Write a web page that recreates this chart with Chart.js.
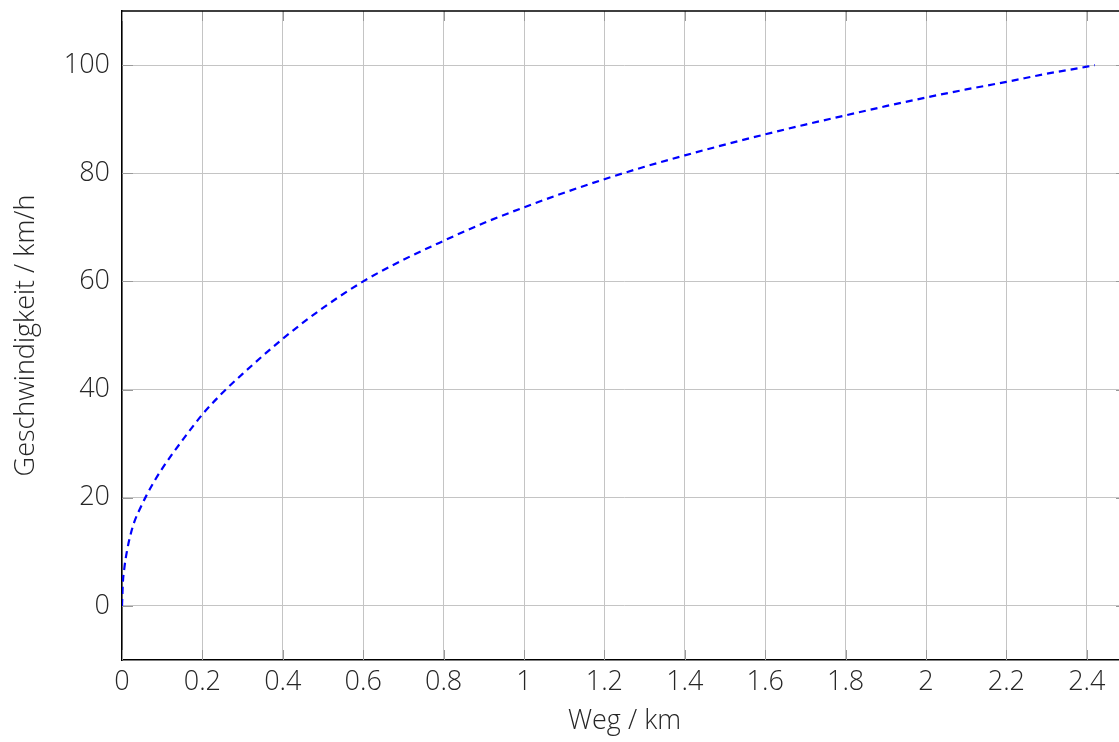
<!DOCTYPE html>
<html>
<head>
<meta charset="utf-8">
<script src="https://cdn.jsdelivr.net/npm/chart.js@4/dist/chart.umd.min.js"></script>
<style>
  html, body { margin: 0; padding: 0; background: #fff; overflow: hidden; }
  /* Zeichenfläche läuft rechts etwas über den Rand hinaus, wie im Original */
  #wrap { width: 1128px; height: 742px; }
</style>
</head>
<body>
<div id="wrap"><canvas id="speedChart"></canvas></div>
<script>
// Weg in km, Geschwindigkeit in km/h
const weg = [0, 0.002, 0.006, 0.012, 0.02, 0.03, 0.045, 0.06, 0.08, 0.1, 0.15, 0.2, 0.25, 0.3, 0.4, 0.5,
  0.6, 0.7, 0.8, 0.9, 1.0, 1.1, 1.2, 1.3, 1.4, 1.5, 1.6, 1.7, 1.8, 1.9, 2.0, 2.1, 2.2, 2.3, 2.4, 2.42];
const geschwindigkeit = [0, 4.1, 7.1, 10, 12.8, 15.4, 18, 20.3, 23, 25.4, 30.6, 35.4, 39.4, 42.9, 49.4, 55.1,
  60, 64, 67.5, 70.8, 73.7, 76.4, 78.9, 81.2, 83.3, 85.3, 87.2, 89.0, 90.7, 92.4, 94.0, 95.5, 96.9, 98.4, 99.7, 100];

const xTicks = [0, 0.2, 0.4, 0.6, 0.8, 1, 1.2, 1.4, 1.6, 1.8, 2, 2.2, 2.4];
const yTicks = [0, 20, 40, 60, 80, 100];

const font = { family: '"Open Sans", sans-serif', size: 27, weight: 300 };
const textColor = '#262626';
const gridColor = '#c4c4c4';

const ctx = document.getElementById('speedChart');

new Chart(ctx, {
  type: 'scatter',
  data: {
    datasets: [
      {
        label: 'v(s)',
        data: weg.map((s, i) => ({ x: s, y: geschwindigkeit[i] })),
        showLine: true,
        borderColor: '#0000ff',
        borderWidth: 2.2,
        borderDash: [7, 5],
        pointRadius: 0,
        cubicInterpolationMode: 'monotone',
        fill: false,
      },
    ],
  },
  options: {
    responsive: true,
    maintainAspectRatio: false,
    animation: false,
    layout: {
      padding: { top: 11, right: 1, left: 0, bottom: 0 },
    },
    plugins: {
      legend: { display: false },
      tooltip: { enabled: false },
    },
    scales: {
      x: {
        type: 'linear',
        min: 0,
        max: 2.5,
        afterBuildTicks(scale) {
          scale.ticks = xTicks.map((v) => ({ value: v }));
        },
        afterFit(scale) {
          scale.height = 82;
          scale.paddingLeft = 0;
          scale.paddingRight = 0;
        },
        ticks: {
          font,
          color: textColor,
          padding: 6,
          maxRotation: 0,
          callback: (v) => String(Math.round(v * 10) / 10),
        },
        grid: { color: gridColor, lineWidth: 1, drawTicks: false },
        border: { color: '#000', width: 1.5 },
        title: {
          display: true,
          text: 'Weg / km',
          font,
          color: textColor,
          padding: { top: 0, bottom: 4 },
        },
      },
      y: {
        type: 'linear',
        min: -10,
        max: 110,
        afterBuildTicks(scale) {
          scale.ticks = yTicks.map((v) => ({ value: v }));
        },
        afterFit(scale) {
          scale.width = 122;
          scale.paddingTop = 0;
          scale.paddingBottom = 0;
        },
        ticks: {
          font,
          color: textColor,
          padding: 12,
        },
        grid: { color: gridColor, lineWidth: 1, drawTicks: false },
        border: { color: '#000', width: 1.5 },
        title: {
          display: true,
          text: 'Geschwindigkeit / km/h',
          font,
          color: textColor,
          padding: { top: 10, bottom: 0 },
        },
      },
    },
  },
  plugins: [
    {
      id: 'frameAndTicks',
      afterDraw(chart) {
        const { ctx, chartArea } = chart;
        const { left, right, top, bottom } = chartArea;
        const xs = chart.scales.x;
        const ys = chart.scales.y;
        ctx.save();
        // kleine Markierungen nach innen
        ctx.strokeStyle = '#999';
        ctx.lineWidth = 1;
        ctx.beginPath();
        xTicks.forEach((v) => {
          const px = Math.round(xs.getPixelForValue(v)) + 0.5;
          ctx.moveTo(px, bottom);
          ctx.lineTo(px, bottom - 10);
          ctx.moveTo(px, top);
          ctx.lineTo(px, top + 10);
        });
        yTicks.forEach((v) => {
          const py = Math.round(ys.getPixelForValue(v)) + 0.5;
          ctx.moveTo(left, py);
          ctx.lineTo(left + 11, py);
          ctx.moveTo(right, py);
          ctx.lineTo(right - 11, py);
        });
        ctx.stroke();
        // Rahmen oben und rechts
        ctx.strokeStyle = '#000';
        ctx.lineWidth = 1.5;
        ctx.beginPath();
        ctx.moveTo(left, top);
        ctx.lineTo(right, top);
        ctx.lineTo(right, bottom);
        ctx.stroke();
        ctx.restore();
      },
    },
  ],
});
</script>
</body>
</html>
